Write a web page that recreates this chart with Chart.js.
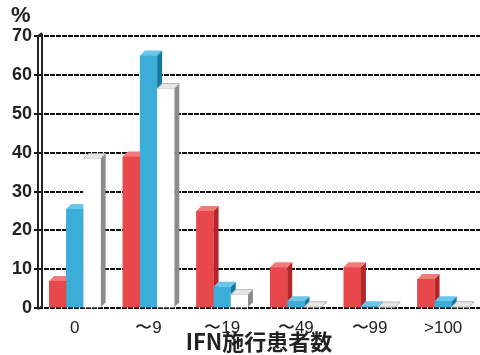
<!DOCTYPE html>
<html><head><meta charset="utf-8">
<script src="https://cdn.jsdelivr.net/npm/chart.js@4"></script>
<style>html,body{margin:0;padding:0;background:#fff}#wrap{width:480px;height:355px}</style>
</head><body><div id="wrap"><canvas id="c"></canvas></div>
<script>
const categories = ['0', '〜9', '〜19', '〜49', '〜99', '>100'];
const redValues = [7, 39, 25, 10.5, 10.5, 7.5];
const blueValues = [25.5, 65, 5.5, 1.8, 0.5, 1.8];
const whiteValues = [38.5, 56.5, 3.5, 0.4, 0.3, 0.4];
const yTicks = [0, 10, 20, 30, 40, 50, 60, 70];
const yUnit = '%';
const xTitle = 'IFN施行患者数';

const faceColors = [
  {front: '#e8474c', top: '#f47a7a', side: '#b3262b'},
  {front: '#3cadd9', top: '#6cc6ea', side: '#17789f'},
  {front: '#ffffff', top: '#e6e6e6', side: '#8c8c8c'}
];
const D = 5;

const bar3d = {
  id: 'bar3d',
  afterDatasetsDraw(chart) {
    const ctx = chart.ctx;
    const n = chart.data.labels.length;
    for (let i = 0; i < n; i++) {
      chart.data.datasets.forEach((ds, di) => {
        const el = chart.getDatasetMeta(di).data[i];
        if (!el) return;
        const {x, y, width, base} = el.getProps(['x', 'y', 'width', 'base'], true);
        const l = x - width / 2, r = x + width / 2;
        const c = faceColors[di];
        ctx.save();
        ctx.fillStyle = c.side;
        ctx.beginPath();
        ctx.moveTo(r, y); ctx.lineTo(r + D, y - D); ctx.lineTo(r + D, base - D); ctx.lineTo(r, base);
        ctx.closePath(); ctx.fill();
        ctx.fillStyle = c.top;
        ctx.beginPath();
        ctx.moveTo(l, y); ctx.lineTo(l + D, y - D); ctx.lineTo(r + D, y - D); ctx.lineTo(r, y);
        ctx.closePath(); ctx.fill();
        if (di === 2) { ctx.strokeStyle = '#aaa'; ctx.lineWidth = 0.8; ctx.stroke(); }
        ctx.fillStyle = c.front;
        ctx.fillRect(l, y, width, base - y);
        ctx.restore();
      });
    }
  },
  afterDraw(chart) {
    const ctx = chart.ctx;
    const a = chart.chartArea;
    ctx.save();
    ctx.strokeStyle = '#222';
    ctx.lineWidth = 2;
    ctx.beginPath();
    ctx.moveTo(a.left, a.top); ctx.lineTo(a.left, a.bottom + 1);
    ctx.moveTo(a.left + 4, a.top - 2); ctx.lineTo(a.left + 4, a.bottom - 1);
    ctx.moveTo(a.left, a.top); ctx.lineTo(a.left + 4, a.top - 3);
    ctx.moveTo(a.left, a.bottom + 1); ctx.lineTo(a.left + 4, a.bottom - 2);
    ctx.stroke();
    ctx.fillStyle = '#222';
    ctx.font = 'bold 22px "Liberation Sans", Arial, sans-serif';
    ctx.textBaseline = 'top';
    ctx.fillText(yUnit, 11, 5);
    ctx.restore();
  }
};

new Chart(document.getElementById('c'), {
  type: 'bar',
  data: {
    labels: categories,
    datasets: [
      {data: redValues, backgroundColor: faceColors[0].front},
      {data: blueValues, backgroundColor: faceColors[1].front},
      {data: whiteValues, backgroundColor: faceColors[2].front}
    ]
  },
  options: {
    responsive: true,
    maintainAspectRatio: false,
    animation: false,
    layout: {padding: {top: 36, right: 0, left: 0, bottom: 0}},
    plugins: {legend: {display: false}, tooltip: {enabled: false}},
    datasets: {bar: {categoryPercentage: 0.7, barPercentage: 1}},
    scales: {
      x: {
        grid: {display: false},
        border: {display: false},
        ticks: {color: '#222', font: {size: 17, family: '"Liberation Sans", Arial, sans-serif'}, padding: 2},
        title: {display: true, text: xTitle, color: '#222', padding: {top: -12, bottom: 0},
          font: {size: 22, weight: 'bold', family: '"Noto Sans CJK JP", sans-serif'}}
      },
      y: {
        min: 0, max: 70,
        afterFit(axis) { axis.width = 38; },
        afterBuildTicks(axis) { axis.ticks = yTicks.map(v => ({value: v})); },
        border: {display: false, dash: [5, 1]},
        grid: {color: '#111', lineWidth: 2, tickLength: 4, drawTicks: true},
        ticks: {color: '#222', padding: 2, font: {size: 18, weight: 'bold', family: '"Liberation Sans", Arial, sans-serif'}}
      }
    }
  },
  plugins: [bar3d]
});
</script>
</body></html>
